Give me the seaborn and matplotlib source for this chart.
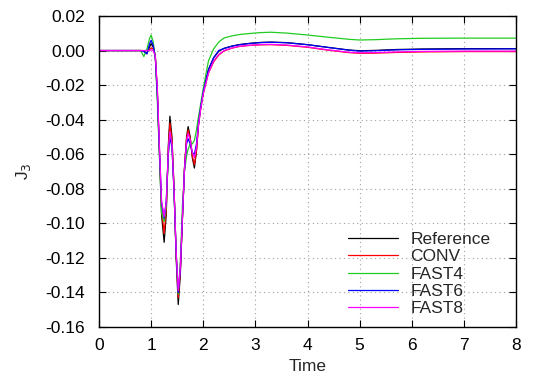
import numpy as np
import pandas as pd
import seaborn as sns
import matplotlib
matplotlib.use("Agg")
import matplotlib.pyplot as plt

# ── Data ──────────────────────────────────────────────────────────────────────
time = [0.0, 0.8, 0.86, 0.92, 0.97, 1.0, 1.04, 1.08, 1.12, 1.16, 1.2, 1.25, 1.29,
        1.33, 1.36, 1.4, 1.44, 1.48, 1.52, 1.56, 1.6, 1.64, 1.68, 1.71, 1.75, 1.79,
        1.83, 1.87, 1.91, 1.95, 2.0, 2.1, 2.2, 2.3, 2.4, 2.55, 2.7, 2.9, 3.1, 3.3,
        3.6, 4.0, 4.4, 4.8, 5.0, 5.3, 5.7, 6.2, 7.0, 8.0]

j3_reference = [0.0, 0.0, -0.0005, -0.0015, 0.002, 0.004, 0.002, -0.003, -0.025, -0.060,
                -0.095, -0.111, -0.095, -0.055, -0.038, -0.050, -0.080, -0.120, -0.147,
                -0.130, -0.098, -0.068, -0.050, -0.044, -0.050, -0.062, -0.068, -0.058,
                -0.042, -0.033, -0.024, -0.011, -0.0042, -0.0003, 0.0013, 0.0026, 0.0035,
                0.0042, 0.0047, 0.0049, 0.0046, 0.0034, 0.0018, 0.0003, -0.0001, 0.0001,
                0.0006, 0.0009, 0.0011, 0.0011]

j3_conv = [0.0, 0.0, 0.0, 0.0, 0.0005, 0.0015, 0.001, -0.003, -0.024, -0.058,
           -0.091, -0.106, -0.092, -0.057, -0.042, -0.052, -0.080, -0.118, -0.143,
           -0.128, -0.097, -0.068, -0.051, -0.046, -0.051, -0.061, -0.066, -0.058,
           -0.043, -0.034, -0.025, -0.013, -0.0065, -0.0025, -0.0002, 0.0014, 0.0024,
           0.003, 0.0033, 0.0034, 0.003, 0.0019, 0.0002, -0.0012, -0.0016, -0.0015,
           -0.0011, -0.0008, -0.0006, -0.0006]

j3_fast4 = [0.0, 0.0, -0.0035, 0.001, 0.007, 0.009, 0.005, -0.004, -0.030, -0.062,
            -0.094, -0.099, -0.090, -0.060, -0.048, -0.055, -0.082, -0.117, -0.141,
            -0.122, -0.090, -0.070, -0.061, -0.057, -0.054, -0.054, -0.052, -0.046,
            -0.038, -0.031, -0.022, -0.006, 0.001, 0.005, 0.0073, 0.0085, 0.0093,
            0.0099, 0.0104, 0.0106, 0.0101, 0.009, 0.0077, 0.0065, 0.0061, 0.0063,
            0.0068, 0.0071, 0.0072, 0.0072]

j3_fast6 = [0.0, 0.0, -0.0005, -0.002, 0.004, 0.006, 0.003, -0.004, -0.026, -0.058,
            -0.088, -0.097, -0.087, -0.060, -0.050, -0.056, -0.082, -0.117, -0.140,
            -0.127, -0.097, -0.069, -0.054, -0.051, -0.054, -0.059, -0.060, -0.054,
            -0.042, -0.033, -0.024, -0.011, -0.004, 0.0001, 0.0012, 0.0025, 0.0034,
            0.0041, 0.0046, 0.0048, 0.0045, 0.0034, 0.0018, 0.0002, -0.0003, -0.0001,
            0.0004, 0.0007, 0.0009, 0.0010]

j3_fast8 = [0.0, 0.0, 0.0, 0.0, 0.0, 0.0005, 0.0, -0.003, -0.022, -0.056,
            -0.087, -0.096, -0.088, -0.058, -0.047, -0.054, -0.081, -0.116, -0.139,
            -0.126, -0.097, -0.069, -0.052, -0.048, -0.052, -0.059, -0.062, -0.056,
            -0.043, -0.034, -0.025, -0.013, -0.006, -0.0022, 0.0, 0.0015, 0.0025,
            0.0031, 0.0035, 0.0036, 0.0032, 0.0021, 0.0004, -0.001, -0.0013, -0.0012,
            -0.0008, -0.0005, -0.0003, -0.0003]

methods = ["Reference", "CONV", "FAST4", "FAST6", "FAST8"]
series  = [j3_reference, j3_conv, j3_fast4, j3_fast6, j3_fast8]
colors  = ["#000000", "#ff0000", "#22cc22", "#0000ff", "#ff00ff"]

x_ticks = [0, 1, 2, 3, 4, 5, 6, 7, 8]
y_ticks = [-0.16, -0.14, -0.12, -0.10, -0.08, -0.06, -0.04, -0.02, 0.0, 0.02]
y_tick_labels = ["-0.16", "-0.14", "-0.12", "-0.10", "-0.08", "-0.06", "-0.04",
                 "-0.02", "0.00", "0.02"]

df = pd.concat(
    [pd.DataFrame({"Time": time, "J3": vals, "Method": name})
     for name, vals in zip(methods, series)],
    ignore_index=True,
)

# ── Style ─────────────────────────────────────────────────────────────────────
FS = 12.5

sns.set_style("ticks")
plt.rcParams["font.family"] = ["Liberation Sans", "DejaVu Sans"]
plt.rcParams["axes.unicode_minus"] = False

fig = plt.figure(figsize=(5.48, 3.83), dpi=100)
ax = fig.add_axes([99 / 548, 1 - 327 / 383, 417 / 548, 311 / 383])

sns.lineplot(
    data=df, x="Time", y="J3", hue="Method", hue_order=methods,
    palette=dict(zip(methods, colors)), linewidth=0.9,
    estimator=None, sort=False, ax=ax,
)

ax.set_xlim(0, 8)
ax.set_ylim(-0.16, 0.02)
ax.set_xticks(x_ticks)
ax.set_yticks(y_ticks)
ax.set_yticklabels(y_tick_labels)
ax.tick_params(direction="in", length=5, width=0.8, top=True, right=True,
               labelsize=FS, colors="black")
ax.tick_params(axis="x", pad=8)
ax.tick_params(axis="y", pad=10)
ax.grid(True, color="#a0a0a0", linestyle=(0, (1, 3)), linewidth=0.8)
for sp in ax.spines.values():
    sp.set_linewidth(1.0)
    sp.set_color("black")

ax.set_xlabel("Time", fontsize=FS, labelpad=4)
ax.set_ylabel("J$_3$", fontsize=FS, labelpad=9)

ax.legend(
    loc="lower left", bbox_to_anchor=(0.597, 0.035), frameon=False,
    fontsize=FS, handlelength=2.9, handletextpad=0.7, labelspacing=0.12,
    borderpad=0, borderaxespad=0,
)

fig.savefig("out.png", dpi=100)
